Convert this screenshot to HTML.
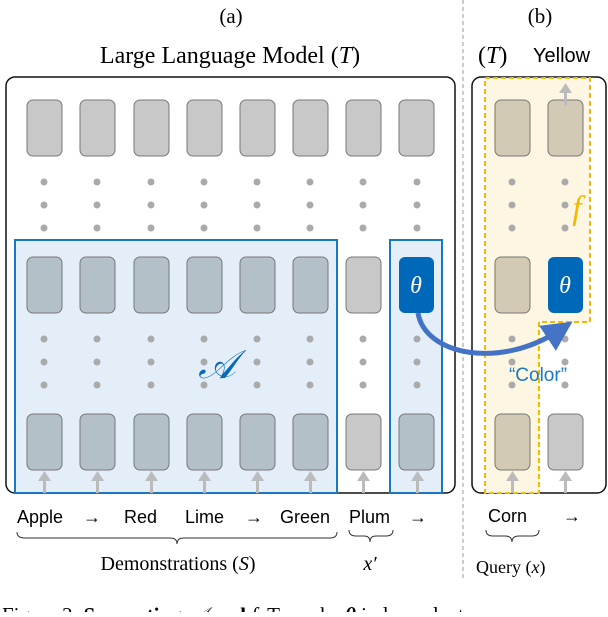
<!DOCTYPE html>
<html><head><meta charset="utf-8"><style>
body{margin:0;background:#fff;width:608px;height:612px;overflow:hidden}
</style></head><body>
<svg width="608" height="612" viewBox="0 0 608 612" xmlns="http://www.w3.org/2000/svg" font-family="Liberation Sans, sans-serif">
<defs><marker id="ar" markerWidth="6" markerHeight="6" refX="3" refY="3" orient="auto"><path d="M0,0 L6,3 L0,6 z" fill="#4472c4"/></marker></defs>
<text x="231" y="23" font-family="Liberation Serif" font-size="21" text-anchor="middle">(a)</text>
<text x="540" y="23" font-family="Liberation Serif" font-size="21" text-anchor="middle">(b)</text>
<text x="230" y="63" font-family="Liberation Serif" font-size="24" text-anchor="middle">Large Language Model (<tspan font-style="italic">T</tspan>)</text>
<text x="478" y="63" font-family="Liberation Serif" font-size="24">(<tspan font-style="italic">T</tspan>)</text>
<text x="533" y="62" font-size="20">Yellow</text>
<line x1="463" y1="0" x2="463" y2="580" stroke="#999" stroke-dasharray="4,3"/>
<rect x="6" y="77" width="449" height="416" rx="9" fill="#fff" stroke="#111" stroke-width="1.5"/>
<rect x="472" y="77" width="134" height="416" rx="9" fill="#fff" stroke="#111" stroke-width="1.5"/>
<rect x="15" y="240" width="322" height="253" fill="#e4eef8" stroke="#1a78c2" stroke-width="2"/>
<rect x="390" y="240" width="52" height="253" fill="#e4eef8" stroke="#1a78c2" stroke-width="2"/>
<path d="M485,78 H590 V322 H539 V493 H485 Z" fill="#fdf6e2" stroke="#f5b800" stroke-width="2" stroke-dasharray="5,3"/>
<g stroke="#777" stroke-width="1">
<g fill="#c8c8c8">
<rect x="27" y="100" width="35" height="56" rx="6"/><rect x="80" y="100" width="35" height="56" rx="6"/><rect x="134" y="100" width="35" height="56" rx="6"/><rect x="187" y="100" width="35" height="56" rx="6"/><rect x="240" y="100" width="35" height="56" rx="6"/><rect x="293" y="100" width="35" height="56" rx="6"/><rect x="346" y="100" width="35" height="56" rx="6"/><rect x="399" y="100" width="35" height="56" rx="6"/>
<rect x="346" y="257" width="35" height="56" rx="6"/><rect x="346" y="414" width="35" height="56" rx="6"/><rect x="548" y="414" width="35" height="56" rx="6"/>
</g>
<g fill="#b4c0c8">
<rect x="27" y="257" width="35" height="56" rx="6"/><rect x="80" y="257" width="35" height="56" rx="6"/><rect x="134" y="257" width="35" height="56" rx="6"/><rect x="187" y="257" width="35" height="56" rx="6"/><rect x="240" y="257" width="35" height="56" rx="6"/><rect x="293" y="257" width="35" height="56" rx="6"/>
<rect x="27" y="414" width="35" height="56" rx="6"/><rect x="80" y="414" width="35" height="56" rx="6"/><rect x="134" y="414" width="35" height="56" rx="6"/><rect x="187" y="414" width="35" height="56" rx="6"/><rect x="240" y="414" width="35" height="56" rx="6"/><rect x="293" y="414" width="35" height="56" rx="6"/><rect x="399" y="414" width="35" height="56" rx="6"/>
</g>
<g fill="#d2cab4">
<rect x="495" y="100" width="35" height="56" rx="6"/><rect x="548" y="100" width="35" height="56" rx="6"/><rect x="495" y="257" width="35" height="56" rx="6"/><rect x="495" y="414" width="35" height="56" rx="6"/>
</g>
</g>
<rect x="399" y="257" width="35" height="56" rx="6" fill="#0068b8"/>
<rect x="548" y="257" width="35" height="56" rx="6" fill="#0068b8"/>
<text x="416" y="293" fill="#fff" font-family="Liberation Serif" font-style="italic" font-size="24" text-anchor="middle">θ</text>
<text x="565" y="293" fill="#fff" font-family="Liberation Serif" font-style="italic" font-size="24" text-anchor="middle">θ</text>
<g fill="#aaa">
<g id="d"><circle cx="44" cy="182" r="3.5"/><circle cx="44" cy="205" r="3.5"/><circle cx="44" cy="228" r="3.5"/></g>
<use href="#d" x="53"/><use href="#d" x="107"/><use href="#d" x="160"/><use href="#d" x="213"/><use href="#d" x="266"/><use href="#d" x="319"/><use href="#d" x="373"/><use href="#d" x="468"/><use href="#d" x="521"/>
<use href="#d" y="157"/><use href="#d" x="53" y="157"/><use href="#d" x="107" y="157"/><use href="#d" x="160" y="157"/><use href="#d" x="213" y="157"/><use href="#d" x="266" y="157"/><use href="#d" x="319" y="157"/><use href="#d" x="373" y="157"/><use href="#d" x="468" y="157"/><use href="#d" x="521" y="157"/>
</g>
<g fill="#bbb">
<g id="a"><rect x="43" y="479" width="3" height="14"/><path d="M38,481 L44.5,471 L51,481 Z"/></g>
<use href="#a" x="53"/><use href="#a" x="107"/><use href="#a" x="160"/><use href="#a" x="213"/><use href="#a" x="266"/><use href="#a" x="319"/><use href="#a" x="373"/><use href="#a" x="468"/><use href="#a" x="521"/><use href="#a" x="521" y="-388"/>
</g>
<text x="217" y="378" fill="#0a6ab8" font-family="Liberation Serif" font-style="italic" font-size="40" text-anchor="middle">𝒜</text>
<text x="577" y="219" fill="#f5b800" font-family="Liberation Serif" font-style="italic" font-size="34" text-anchor="middle">f</text>
<path d="M418,313 C425,355 500,370 560,330" fill="none" stroke="#4472c4" stroke-width="5" marker-end="url(#ar)"/>
<text x="538" y="381" fill="#1a78c2" font-size="19" text-anchor="middle">“Color”</text>
<g font-size="18">
<text x="17" y="523">Apple</text><text x="83" y="523">→</text><text x="124" y="523">Red</text>
<text x="185" y="523">Lime</text><text x="245" y="523">→</text><text x="280" y="523">Green</text>
<text x="349" y="523">Plum</text><text x="409" y="523">→</text><text x="488" y="522">Corn</text><text x="563" y="522">→</text>
</g>
<g fill="none" stroke="#333" stroke-width="1">
<path d="M17,532 Q17,538 25,538 H170 Q177,538 177,544 Q177,538 184,538 H330 Q337,538 337,532"/>
<path d="M349,530 Q349,536 356,536 H364 Q370,536 370,542 Q370,536 376,536 H386 Q393,536 393,530"/>
<path d="M486,530 Q486,536 493,536 H505 Q512,536 512,542 Q512,536 519,536 H532 Q539,536 539,530"/>
</g>
<text x="178" y="570" font-family="Liberation Serif" font-size="20" text-anchor="middle">Demonstrations (<tspan font-style="italic">S</tspan>)</text>
<text x="370" y="570" font-family="Liberation Serif" font-style="italic" font-size="20" text-anchor="middle">x′</text>
<text x="476" y="573" font-family="Liberation Serif" font-size="18">Query (<tspan font-style="italic">x</tspan>)</text>
<text x="2" y="622" font-family="Liberation Serif" font-size="21">Figure 2: <tspan font-weight="bold">Separating</tspan> <tspan font-style="italic">𝒜</tspan> <tspan font-weight="bold">and</tspan> <tspan font-style="italic">f</tspan>. To make <tspan font-weight="bold" font-style="italic">θ</tspan> independent</text>
</svg>
</body></html>
